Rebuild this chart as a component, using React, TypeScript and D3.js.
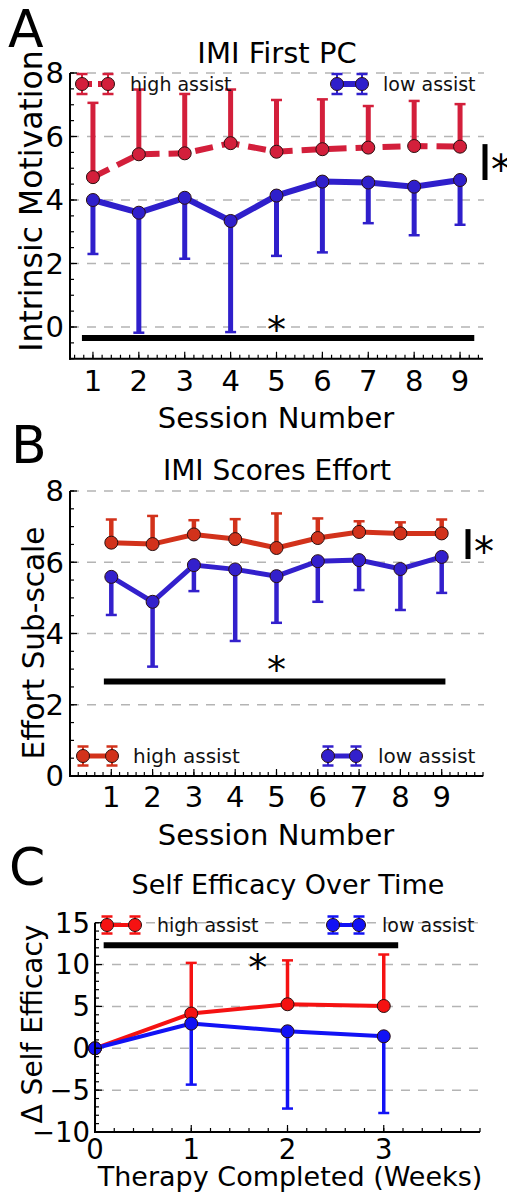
import React from "react"
import * as d3 from "d3"

const font = "DejaVu Sans, sans-serif"

const sessions = [1, 2, 3, 4, 5, 6, 7, 8, 9]
const weeks = [0, 1, 2, 3]

// A: IMI first PC
const pcHighMean = [4.72, 5.44, 5.47, 5.79, 5.52, 5.6, 5.65, 5.7, 5.68]
const pcHighUpper = [7.06, 7.48, 7.34, 7.48, 7.15, 7.17, 6.96, 7.12, 7.02]
const pcLowMean = [4.0, 3.6, 4.07, 3.34, 4.14, 4.58, 4.55, 4.42, 4.63]
const pcLowLower = [2.3, -0.18, 2.15, -0.16, 2.24, 2.35, 3.27, 2.89, 3.22]

// B: effort sub-scale
const effHighMean = [6.55, 6.51, 6.78, 6.65, 6.4, 6.68, 6.85, 6.81, 6.81]
const effHighUpper = [7.2, 7.3, 7.18, 7.21, 7.37, 7.23, 7.15, 7.12, 7.2]
const effLowMean = [5.59, 4.89, 5.92, 5.8, 5.61, 6.03, 6.06, 5.81, 6.15]
const effLowLower = [4.52, 3.07, 5.19, 3.79, 4.3, 4.89, 5.22, 4.66, 5.14]

// C: change in self efficacy
const seHighMean = [0, 4.15, 5.26, 5.05]
const seHighUpper = [null, 10.2, 10.5, 11.2]
const seLowMean = [0, 2.95, 2.03, 1.43]
const seLowLower = [null, -4.34, -7.2, -7.73]

const legendLabels = ["high assist", "low assist"]

// significance annotations (data units)
const sigA = { x0: 0.76, x1: 9.31, y: -0.35, starX: 5.0, starY: 0.13 }
const sigB = { x0: 0.82, x1: 9.09, y: 2.65, starX: 5.0, starY: 3.17 }
const sigC = { x0: 0.09, x1: 3.15, y: 12.3, starX: 1.69, starY: 10.4 }
const bracketA = { y0: 5.76, y1: 4.63 }
const bracketB = { y0: 6.93, y1: 6.09 }

function minorTicks(d0, d1, step) {
  return d3.range(Math.ceil(d0 / step - 1e-6), Math.floor(d1 / step + 1e-6) + 1).map(i => i * step)
}

function Panel(p) {
  const { box } = p
  const x = d3.scaleLinear().domain(p.xDomain).range([box.left, box.right])
  const y = d3.scaleLinear().domain(p.yDomain).range([box.bottom, box.top])
  const fmt = v => (v < 0 ? "\u2212" + Math.abs(v) : String(v))

  const line = d3.line().x(d => x(d[0])).y(d => y(d[1]))

  return (
    <g fontFamily={font}>
      <text x={p.letterX} y={p.letterY} fontSize={52}>{p.letter}</text>
      <text x={p.titleX} y={p.titleY} fontSize={p.titleSize} textAnchor="middle">{p.title}</text>

      {/* grid */}
      {p.yTicks.map(t => (
        <line key={"g" + t} x1={box.left} x2={box.right + 1} y1={y(t)} y2={y(t)}
          stroke="#b4b4b4" strokeWidth={1.5} strokeDasharray="9,8" />
      ))}

      {/* series */}
      {p.series.map((s, si) => {
        const pts = s.x.map((xv, i) => [xv, s.mean[i]])
        return (
          <g key={"s" + si}>
            {s.x.map((xv, i) => s.err[i] == null ? null : (
              <g key={i}>
                <line x1={x(xv)} x2={x(xv)} y1={y(s.mean[i])} y2={y(s.err[i])}
                  stroke={s.color} strokeWidth={s.barWidth} />
                <line x1={x(xv) - s.cap} x2={x(xv) + s.cap} y1={y(s.err[i])} y2={y(s.err[i])}
                  stroke={s.color} strokeWidth={2.5} />
              </g>
            ))}
            <path d={line(pts)} fill="none" stroke={s.color} strokeWidth={s.width}
              strokeDasharray={s.dash || null} />
            {pts.map((d, i) => (
              <circle key={i} cx={x(d[0])} cy={y(d[1])} r={s.r} fill={s.color} stroke="#2a1010" strokeWidth={1} />
            ))}
          </g>
        )
      })}

      {/* legend */}
      {p.series.map((s, si) => {
        const lg = p.legend[si]
        return (
          <g key={"l" + si}>
            <line x1={lg.x0} x2={lg.x1} y1={lg.y} y2={lg.y} stroke={s.color} strokeWidth={s.width}
              strokeDasharray={s.dash ? "10,6" : null} />
            {[lg.x0, lg.x1].map(cx => (
              <g key={cx}>
                <line x1={cx} x2={cx} y1={lg.y - lg.h} y2={lg.y + lg.h} stroke={s.color} strokeWidth={2} />
                <line x1={cx - s.cap} x2={cx + s.cap} y1={lg.y - lg.h} y2={lg.y - lg.h} stroke={s.color} strokeWidth={2.5} />
                <line x1={cx - s.cap} x2={cx + s.cap} y1={lg.y + lg.h} y2={lg.y + lg.h} stroke={s.color} strokeWidth={2.5} />
                <circle cx={cx} cy={lg.y} r={s.r} fill={s.color} stroke="#2a1010" strokeWidth={1} />
              </g>
            ))}
            <text x={lg.tx} y={lg.y + 7} fontSize={p.legendSize} fill="#111">{legendLabels[si]}</text>
          </g>
        )
      })}

      {/* significance */}
      <line x1={x(p.sig.x0)} x2={x(p.sig.x1)} y1={y(p.sig.y)} y2={y(p.sig.y)} stroke="#000" strokeWidth={6} />
      <text x={x(p.sig.starX)} y={y(p.sig.starY) + 20} fontSize={38} textAnchor="middle">*</text>
      {p.bracket && (
        <g>
          <line x1={p.bracket.x} x2={p.bracket.x} y1={y(p.bracket.y0)} y2={y(p.bracket.y1)} stroke="#000" strokeWidth={5} />
          <text x={p.bracket.x + 6} y={(y(p.bracket.y0) + y(p.bracket.y1)) / 2 + 22} fontSize={40}>*</text>
        </g>
      )}

      {/* axes */}
      <line x1={box.left} x2={box.left} y1={box.top} y2={box.bottom + 1} stroke="#000" strokeWidth={2} />
      <line x1={box.left - 1} x2={box.right} y1={box.bottom} y2={box.bottom} stroke="#000" strokeWidth={2} />
      {minorTicks(p.xDomain[0], p.xDomain[1], p.xMinor).map(t => (
        <line key={"xm" + t} x1={x(t)} x2={x(t)} y1={box.bottom} y2={box.bottom - 4} stroke="#000" strokeWidth={1.2} />
      ))}
      {p.xTicks.map(t => (
        <g key={"xt" + t}>
          <line x1={x(t)} x2={x(t)} y1={box.bottom} y2={box.bottom - 7} stroke="#000" strokeWidth={1.2} />
          <text x={x(t)} y={box.bottom + p.xTickDy} fontSize={p.tickSize} textAnchor="middle">{fmt(t)}</text>
        </g>
      ))}
      {minorTicks(p.yDomain[0], p.yDomain[1], p.yMinor).map(t => (
        <line key={"ym" + t} x1={box.left} x2={box.left + 4} y1={y(t)} y2={y(t)} stroke="#000" strokeWidth={1.2} />
      ))}
      {p.yTicks.map(t => (
        <g key={"yt" + t}>
          <line x1={box.left} x2={box.left + 7} y1={y(t)} y2={y(t)} stroke="#000" strokeWidth={1.2} />
          <text x={box.left - p.yTickPad} y={y(t)} dy="0.36em" fontSize={p.tickSize} textAnchor="end">{fmt(t)}</text>
        </g>
      ))}

      <text x={p.xLabelX} y={p.xLabelY} fontSize={p.labelSize} textAnchor="middle">{p.xLabel}</text>
      <text transform={`translate(${p.yLabelX},${p.yLabelY}) rotate(-90)`} fontSize={p.yLabelSize} textAnchor="middle">{p.yLabel}</text>
    </g>
  )
}

export default function App() {
  const aHigh = "#d31f3b"
  const aLow = "#2f1fcb"
  const bHigh = "#d2321b"
  const bLow = "#3320cc"
  const cHigh = "#f51212"
  const cLow = "#1212f5"

  return (
    <svg width={507} height={1194} style={{ position: "absolute", left: 0, top: 0, display: "block", background: "#fff" }}>
      <Panel
        letter="A" letterX={8} letterY={47}
        title="IMI First PC" titleX={277} titleY={63} titleSize={29}
        box={{ left: 70, right: 483, top: 73, bottom: 358.75 }}
        xDomain={[0.5, 9.5]} yDomain={[-1, 8]}
        xTicks={sessions} xMinor={0.2} yTicks={[0, 2, 4, 6, 8]} yMinor={0.5}
        tickSize={29} xTickDy={32} yTickPad={6}
        xLabel="Session Number" xLabelX={276} xLabelY={428} labelSize={29}
        yLabel="Intrinsic Motivation" yLabelX={42} yLabelY={201} yLabelSize={31.5}
        legendSize={19}
        legend={[
          { x0: 82, x1: 108, y: 84, h: 10, tx: 130 },
          { x0: 337, x1: 362, y: 84, h: 10, tx: 383 },
        ]}
        series={[
          { x: sessions, mean: pcHighMean, err: pcHighUpper, color: aHigh, width: 6, dash: "18,9", barWidth: 5, cap: 5.5, r: 6.5 },
          { x: sessions, mean: pcLowMean, err: pcLowLower, color: aLow, width: 6, barWidth: 5, cap: 5.5, r: 6.5 },
        ]}
        sig={sigA}
        bracket={{ x: 485, ...bracketA }}
      />
      <Panel
        letter="B" letterX={11} letterY={463}
        title="IMI Scores Effort" titleX={277} titleY={480} titleSize={28}
        box={{ left: 70, right: 483, top: 491, bottom: 776 }}
        xDomain={[0, 10]} yDomain={[0, 8]}
        xTicks={sessions} xMinor={0.2} yTicks={[0, 2, 4, 6, 8]} yMinor={0.5}
        tickSize={29} xTickDy={31} yTickPad={6}
        xLabel="Session Number" xLabelX={276} xLabelY={845} labelSize={29}
        yLabel="Effort Sub-scale" yLabelX={44} yLabelY={643} yLabelSize={29.5}
        legendSize={20}
        legend={[
          { x0: 83, x1: 112, y: 756, h: 9.5, tx: 133 },
          { x0: 328, x1: 356, y: 756, h: 9.5, tx: 378 },
        ]}
        series={[
          { x: sessions, mean: effHighMean, err: effHighUpper, color: bHigh, width: 5, barWidth: 4.5, cap: 5.5, r: 6.5 },
          { x: sessions, mean: effLowMean, err: effLowLower, color: bLow, width: 5, barWidth: 4.5, cap: 5.5, r: 6.5 },
        ]}
        sig={sigB}
        bracket={{ x: 468, ...bracketB }}
      />
      <Panel
        letter="C" letterX={9} letterY={885}
        title="Self Efficacy Over Time" titleX={288} titleY={894} titleSize={27}
        box={{ left: 95, right: 480, top: 922.7, bottom: 1132 }}
        xDomain={[0, 4]} yDomain={[-10, 15]}
        xTicks={weeks} xMinor={0.2} yTicks={[-10, -5, 0, 5, 10, 15]} yMinor={1}
        tickSize={27.5} xTickDy={27} yTickPad={5}
        xLabel="Therapy Completed (Weeks)" xLabelX={290} xLabelY={1186} labelSize={27}
        yLabel={"\u0394 Self Efficacy"} yLabelX={42} yLabelY={1024} yLabelSize={28}
        legendSize={19}
        legend={[
          { x0: 107, x1: 135, y: 925, h: 8.5, tx: 157 },
          { x0: 333, x1: 359, y: 925, h: 8.5, tx: 382 },
        ]}
        series={[
          { x: weeks, mean: seHighMean, err: seHighUpper, color: cHigh, width: 4, barWidth: 3.5, cap: 5.5, r: 6.5 },
          { x: weeks, mean: seLowMean, err: seLowLower, color: cLow, width: 4, barWidth: 3.5, cap: 5.5, r: 6.5 },
        ]}
        sig={sigC}
      />
    </svg>
  )
}
